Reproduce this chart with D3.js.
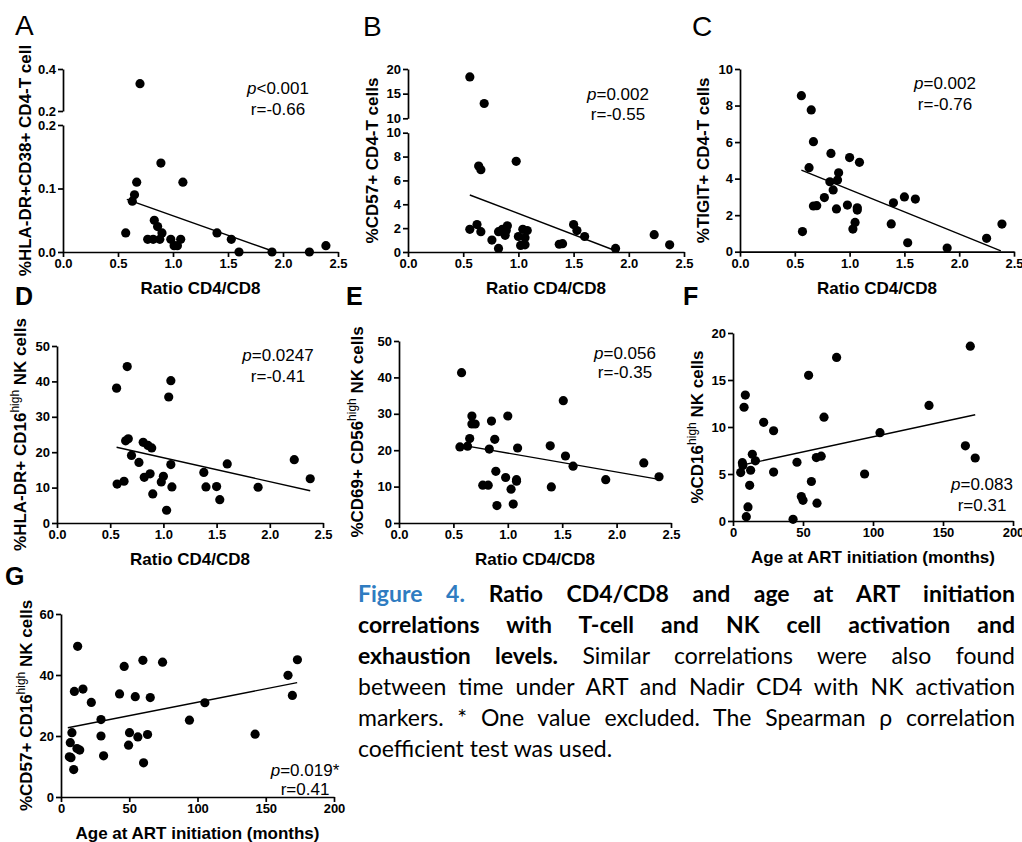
<!DOCTYPE html>
<html>
<head>
<meta charset="utf-8">
<script src="https://d3js.org/d3.v7.min.js"></script>
<style>
  body { margin: 0; background: #fff; }
  #fig { position: relative; width: 1022px; height: 842px; overflow: hidden; }
  svg { position: absolute; left: 0; top: 0; }
  .tick text { font-family: "Liberation Sans", Arial, sans-serif; font-weight: bold; font-size: 13px; fill: #000; }
  .tick line, .domain { stroke: #000; stroke-width: 1.7px; }
  .ttl { font-family: "Liberation Sans", Arial, sans-serif; font-weight: bold; font-size: 17px; fill: #000; }
  .stat { font-family: "Liberation Sans", Arial, sans-serif; font-size: 17px; fill: #000; }
  #caption { position: absolute; left: 358px; top: 578px; width: 657px; font-family: Lato, "Open Sans", sans-serif;
             font-size: 23px; line-height: 31px; color: #000; }
  #caption .ln { white-space: nowrap; }
  .blue { color: #2F7CC1; font-weight: bold; }
</style>
</head>
<body>
<div id="fig">
  <svg id="chart" width="1022" height="842"></svg>
  <div id="caption">
    <div class="ln"><span><span class="blue">Figure 4.</span> <b>Ratio CD4/CD8 and age at ART initiation</b></span></div>
    <div class="ln"><span><b>correlations with T-cell and NK cell activation and</b></span></div>
    <div class="ln"><span><b>exhaustion levels.</b> Similar correlations were also found</span></div>
    <div class="ln"><span>between time under ART and Nadir CD4 with NK activation</span></div>
    <div class="ln"><span>markers. * One value excluded. The Spearman ρ correlation</span></div>
    <div class="ln last"><span>coefficient test was used.</span></div>
  </div>
</div>
<script>
// tick values
const ratioTicks = [0, 0.5, 1.0, 1.5, 2.0, 2.5];
const ageTicks = [0, 50, 100, 150, 200];

// A: HLA-DR+CD38+ CD4 T cells vs ratio
const aRatio = [0.70, 0.89, 0.67, 1.09, 0.65, 0.63, 0.83, 0.86, 0.57, 0.90, 0.77, 0.82, 0.88, 0.98, 1.07, 1.01, 1.04, 1.40, 1.53, 1.60, 1.90, 2.24, 2.39];
const aHlaDrCd38 = [0.33, 0.14, 0.11, 0.11, 0.09, 0.08, 0.05, 0.04, 0.03, 0.03, 0.02, 0.02, 0.02, 0.02, 0.02, 0.01, 0.01, 0.03, 0.02, 0.00, 0.00, 0.00, 0.01];
const aFit = [[0.58, 0.083], [1.93, 0.0]];
const aTicksLow = [0.0, 0.1, 0.2], aTicksHigh = [0.2, 0.4];

// B: CD57+ CD4 T cells vs ratio
const bRatio = [0.56, 0.69, 0.64, 0.66, 0.98, 0.56, 0.625, 0.66, 0.76, 0.82, 0.82, 0.855, 0.88, 0.90, 0.89, 1.0, 1.04, 1.08, 1.06, 1.02, 1.06, 1.37, 1.40, 1.50, 1.53, 1.60, 1.88, 2.23, 2.37];
const bCd57 = [18.4, 13.0, 7.2, 6.9, 7.6, 1.9, 2.3, 1.7, 1.0, 0.3, 1.7, 1.9, 1.4, 2.2, 1.8, 1.3, 1.9, 1.8, 1.2, 0.55, 0.6, 0.65, 0.7, 2.3, 1.8, 1.3, 0.3, 1.45, 0.6];
const bFit = [[0.56, 4.78], [1.91, 0.0]];
const bTicksLow = [0, 2, 4, 6, 8, 10], bTicksHigh = [10, 15, 20];

// C: TIGIT+ CD4 T cells vs ratio
const cRatio = [0.56, 0.65, 0.67, 0.63, 0.57, 0.83, 1.0, 1.09, 0.90, 0.89, 0.82, 0.85, 0.77, 0.67, 0.70, 0.88, 0.98, 1.07, 1.07, 1.05, 1.03, 1.40, 1.50, 1.60, 1.38, 1.53, 1.89, 2.25, 2.39];
const cTigit = [8.54, 7.76, 6.02, 4.6, 1.1, 5.38, 5.15, 4.89, 4.32, 3.92, 3.83, 3.38, 2.96, 2.5, 2.52, 2.34, 2.55, 2.4, 2.28, 1.6, 1.24, 2.68, 3.0, 2.88, 1.52, 0.49, 0.2, 0.73, 1.51];
const cFit = [[0.56, 4.47], [2.38, 0.05]];
const cTicks = [0, 2, 4, 6, 8, 10];

// D: HLA-DR+ CD16high NK vs ratio
const dRatio = [0.56, 0.66, 1.07, 1.05, 0.645, 0.67, 0.70, 0.77, 0.81, 0.855, 0.89, 0.565, 0.63, 0.82, 0.875, 0.90, 1.0, 0.98, 1.07, 1.08, 1.03, 1.38, 1.40, 1.50, 1.53, 1.60, 1.89, 2.23, 2.38];
const dHlaDr = [38.1, 44.2, 40.2, 35.6, 23.2, 23.8, 19.1, 17.1, 22.8, 21.9, 21.2, 11.0, 11.8, 12.9, 13.9, 8.2, 13.2, 11.6, 16.5, 10.2, 3.6, 14.3, 10.2, 10.3, 6.6, 16.7, 10.1, 17.9, 12.5];
const dFit = [[0.56, 21.4], [2.38, 9.1]];
const nkTicks = [0, 10, 20, 30, 40, 50];

// E: CD69+ CD56high NK vs ratio
const eRatio = [0.575, 0.56, 0.63, 0.65, 0.67, 0.67, 0.70, 0.85, 0.88, 0.83, 1.0, 1.09, 0.89, 0.98, 0.77, 0.82, 0.90, 1.03, 1.08, 1.08, 1.05, 1.39, 1.40, 1.51, 1.53, 1.60, 1.90, 2.25, 2.39];
const eCd69 = [41.3, 20.9, 21.1, 23.2, 29.4, 27.2, 27.2, 28.0, 23.0, 20.3, 29.4, 20.6, 14.2, 12.5, 10.4, 10.4, 4.8, 9.3, 11.9, 11.5, 5.2, 21.2, 9.9, 33.6, 18.4, 15.6, 11.9, 16.5, 12.7];
const eFit = [[0.575, 21.4], [2.39, 12.0]];

// F: CD16high NK vs age at ART initiation
const fAge = [5.5, 6.7, 7, 7.9, 8.8, 9.5, 10.7, 11.9, 12.6, 13.8, 16, 21.9, 29, 29, 42.9, 45.7, 48.8, 50, 54, 56, 59.5, 63, 60, 65, 74, 94, 105, 140, 166, 169.5, 173];
const fCd16 = [5.15, 6.2, 5.9, 12.1, 13.4, 0.46, 1.5, 3.8, 5.4, 7.1, 6.4, 10.5, 9.6, 5.2, 0.18, 6.25, 2.6, 2.2, 15.5, 4.2, 6.75, 6.9, 1.9, 11.05, 17.4, 5.0, 9.4, 12.3, 8.0, 18.6, 6.7];
const fFit = [[5, 5.9], [173, 11.3]];
const fTicks = [0, 5, 10, 15, 20];

// G: CD57+ CD16high NK vs age at ART initiation
const gAge = [6.1, 7.3, 6.8, 8, 9.3, 9.8, 11.7, 12.2, 13.7, 16.1, 22.2, 29.3, 29.3, 31.2, 42.9, 46.3, 49.5, 50.2, 54.4, 56.3, 60, 60.5, 63.4, 65.4, 74.4, 94.1, 105.4, 142.2, 166.3, 169.5, 173.2];
const gCd57 = [13.2, 12.9, 17.8, 21.1, 9.0, 34.6, 15.9, 49.4, 15.4, 35.4, 31.0, 25.4, 20.0, 13.5, 33.8, 42.8, 17.0, 21.1, 32.9, 19.7, 44.8, 11.2, 20.5, 32.6, 44.2, 25.2, 30.9, 20.6, 39.9, 33.3, 45.0];
const gFit = [[5, 22.7], [173, 37.5]];
const gTicks = [0, 20, 40, 60];

const ratioTitle = "Ratio CD4/CD8", ageTitle = "Age at ART initiation (months)";

const panels = [
  { letter: "A", bold: false, lx: 15, ly: 35, xs: aRatio, ys: aHlaDrCd38, fit: aFit,
    xr: [63, 338], xd: [0, 2.5], xt: ratioTicks, xf: ".1f", xTitle: ratioTitle,
    low: { d: [0, 0.2], r: [252, 125], t: aTicksLow }, high: { d: [0.2, 0.4], r: [111, 69], t: aTicksHigh },
    yf: ".1f", yTitle: [["%HLA-DR+CD38+ CD4-T cell"]], tx: 25, p: "<0.001", r: "r=-0.66", sx: 278, sy: 88, gap: 21 },
  { letter: "B", bold: false, lx: 363, ly: 36, xs: bRatio, ys: bCd57, fit: bFit,
    xr: [408, 684], xd: [0, 2.5], xt: ratioTicks, xf: ".1f", xTitle: ratioTitle,
    low: { d: [0, 10], r: [252, 132.7], t: bTicksLow }, high: { d: [10, 20], r: [118.3, 69], t: bTicksHigh },
    yf: "d", yTitle: [["%CD57+ CD4-T cells"]], tx: 372, p: "=0.002", r: "r=-0.55", sx: 618, sy: 94, gap: 20 },
  { letter: "C", bold: false, lx: 692, ly: 36, xs: cRatio, ys: cTigit, fit: cFit,
    xr: [740, 1014], xd: [0, 2.5], xt: ratioTicks, xf: ".1f", xTitle: ratioTitle,
    low: { d: [0, 10], r: [251.7, 69], t: cTicks },
    yf: "d", yTitle: [["%TIGIT+ CD4-T cells"]], tx: 703, p: "=0.002", r: "r=-0.76", sx: 945, sy: 83, gap: 21 },
  { letter: "D", bold: true, lx: 15, ly: 305, xs: dRatio, ys: dHlaDr, fit: dFit,
    xr: [57, 323], xd: [0, 2.5], xt: ratioTicks, xf: ".1f", xTitle: ratioTitle,
    low: { d: [0, 50], r: [523, 346], t: nkTicks },
    yf: "d", yTitle: [["%HLA-DR+ CD16"], ["high", 1], [" NK cells"]], tx: 20, p: "=0.0247", r: "r=-0.41", sx: 278, sy: 355, gap: 21 },
  { letter: "E", bold: true, lx: 346, ly: 305, xs: eRatio, ys: eCd69, fit: eFit,
    xr: [399, 671], xd: [0, 2.5], xt: ratioTicks, xf: ".1f", xTitle: ratioTitle,
    low: { d: [0, 50], r: [523, 341], t: nkTicks },
    yf: "d", yTitle: [["%CD69+ CD56"], ["high", 1], [" NK cells"]], tx: 357, p: "=0.056", r: "r=-0.35", sx: 625, sy: 353, gap: 19 },
  { letter: "F", bold: true, lx: 683, ly: 305, xs: fAge, ys: fCd16, fit: fFit,
    xr: [733, 1013], xd: [0, 200], xt: ageTicks, xf: "d", xTitle: ageTitle,
    low: { d: [0, 20], r: [521, 333], t: fTicks },
    yf: "d", yTitle: [["%CD16"], ["high", 1], [" NK cells"]], tx: 697, p: "=0.083", r: "r=0.31", sx: 982, sy: 484, gap: 21 },
  { letter: "G", bold: true, lx: 5, ly: 585, xs: gAge, ys: gCd57, fit: gFit,
    xr: [61, 334], xd: [0, 200], xt: ageTicks, xf: "d", xTitle: ageTitle,
    low: { d: [0, 60], r: [797, 614], t: gTicks },
    yf: "d", yTitle: [["%CD57+ CD16"], ["high", 1], [" NK cells"]], tx: 26, p: "=0.019*", r: "r=0.41", sx: 305, sy: 770, gap: 19 }
];

const svg = d3.select("#chart");

panels.forEach(p => {
  const g = svg.append("g");
  const x = d3.scaleLinear().domain(p.xd).range(p.xr);
  const yLow = d3.scaleLinear().domain(p.low.d).range(p.low.r);
  const yHigh = p.high ? d3.scaleLinear().domain(p.high.d).range(p.high.r) : null;
  const y = v => (yHigh && v > p.low.d[1]) ? yHigh(v) : yLow(v);
  const x0 = p.xr[0], yb = p.low.r[0];
  const yTop = p.high ? p.high.r[1] : p.low.r[1];

  // axes
  g.append("g").attr("transform", `translate(0,${yb})`)
    .call(d3.axisBottom(x).tickValues(p.xt).tickFormat(d3.format(p.xf))
      .tickSize(5).tickPadding(2).tickSizeOuter(0));
  g.append("g").attr("transform", `translate(${x0},0)`)
    .call(d3.axisLeft(yLow).tickValues(p.low.t).tickFormat(d3.format(p.yf))
      .tickSize(5).tickPadding(2).tickSizeOuter(0));
  if (yHigh) {
    g.append("g").attr("transform", `translate(${x0},0)`)
      .call(d3.axisLeft(yHigh).tickValues(p.high.t).tickFormat(d3.format(p.yf))
        .tickSize(5).tickPadding(2).tickSizeOuter(0));
  }

  // regression line
  g.append("line")
    .attr("x1", x(p.fit[0][0])).attr("y1", y(p.fit[0][1]))
    .attr("x2", x(p.fit[1][0])).attr("y2", y(p.fit[1][1]))
    .attr("stroke", "#000").attr("stroke-width", 1.4);

  // points
  g.selectAll("circle").data(d3.zip(p.xs, p.ys)).join("circle")
    .attr("cx", d => x(d[0])).attr("cy", d => y(d[1])).attr("r", 4.6).attr("fill", "#000");

  // x title
  g.append("text").attr("class", "ttl").attr("text-anchor", "middle")
    .attr("x", (p.xr[0] + p.xr[1]) / 2).attr("y", yb + 42).text(p.xTitle);

  // y title (rotated, with superscript)
  const yt = g.append("text").attr("class", "ttl").attr("text-anchor", "middle")
    .attr("transform", `translate(${p.tx + 6},${(yb + yTop) / 2}) rotate(-90)`);
  p.yTitle.forEach(part => {
    const ts = yt.append("tspan").text(part[0]);
    if (part[1]) ts.attr("dy", -7).style("font-size", "12px").style("font-weight", "normal");
    else if (part[0].startsWith(" ")) ts.attr("dy", 7);
  });

  // stats
  const st = g.append("text").attr("class", "stat").attr("text-anchor", "middle")
    .attr("x", p.sx).attr("y", p.sy + 6);
  st.append("tspan").style("font-style", "italic").text("p");
  st.append("tspan").text(p.p);
  g.append("text").attr("class", "stat").attr("text-anchor", "middle")
    .attr("x", p.sx).attr("y", p.sy + 6 + p.gap).text(p.r);

  // panel letter
  g.append("text").attr("x", p.lx).attr("y", p.ly)
    .style("font-family", '"Liberation Sans", Arial, sans-serif')
    .style("font-size", p.bold ? "25px" : "28px")
    .style("font-weight", p.bold ? "bold" : "normal")
    .text(p.letter);
});

// justify caption lines to the block width
document.fonts.ready.then(() => {
  d3.selectAll("#caption .ln").each(function() {
    if (this.classList.contains("last")) return;
    const span = this.firstElementChild;
    const w = span.getBoundingClientRect().width;
    const n = (span.textContent.match(/ /g) || []).length;
    if (n > 0) this.style.wordSpacing = ((657 - w) / n) + "px";
  });
});
</script>
</body>
</html>
